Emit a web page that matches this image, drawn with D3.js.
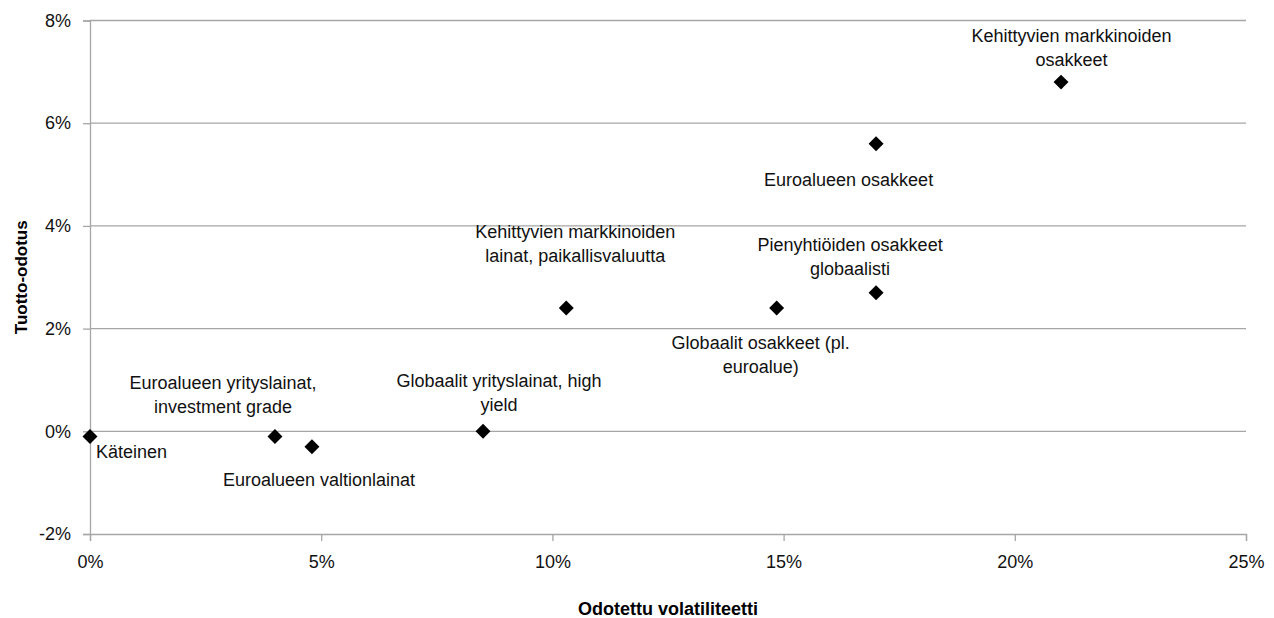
<!DOCTYPE html>
<html>
<head>
<meta charset="utf-8">
<script src="https://cdn.jsdelivr.net/npm/d3@7"></script>
<style>
  html, body { margin: 0; padding: 0; background: #fff; }
  svg { display: block; font-family: "Liberation Sans", Arial, sans-serif; }
</style>
</head>
<body>
<svg id="chart" width="1274" height="618"></svg>
<script>
// Asset classes: expected volatility (x, %) and expected return (y, %)
const assetNames = [
  "Käteinen",
  "Euroalueen yrityslainat, investment grade",
  "Euroalueen valtionlainat",
  "Globaalit yrityslainat, high yield",
  "Kehittyvien markkinoiden lainat, paikallisvaluutta",
  "Globaalit osakkeet (pl. euroalue)",
  "Pienyhtiöiden osakkeet globaalisti",
  "Euroalueen osakkeet",
  "Kehittyvien markkinoiden osakkeet"
];
const volatility = [0.0, 4.0, 4.8, 8.5, 10.3, 14.85, 17.0, 17.0, 21.0];
const expectedReturn = [-0.1, -0.1, -0.3, 0.0, 2.4, 2.4, 2.7, 5.6, 6.8];

// Label text as wrapped lines
const labelLines = [
  ["Käteinen"],
  ["Euroalueen yrityslainat,", "investment grade"],
  ["Euroalueen valtionlainat"],
  ["Globaalit yrityslainat, high", "yield"],
  ["Kehittyvien markkinoiden", "lainat, paikallisvaluutta"],
  ["Globaalit osakkeet (pl.", "euroalue)"],
  ["Pienyhtiöiden osakkeet", "globaalisti"],
  ["Euroalueen osakkeet"],
  ["Kehittyvien markkinoiden", "osakkeet"]
];

const xTicks = [0, 5, 10, 15, 20, 25];
const yTicks = [-2, 0, 2, 4, 6, 8];
const xTitle = "Odotettu volatiliteetti";
const yTitle = "Tuotto-odotus";

// Label placement relative to its marker: [dx, dy of block centre, anchor]
const labelPlacement = [
  [6, 16, "start"],
  [-52, -41, "middle"],
  [7, 33, "middle"],
  [16, -38.5, "middle"],
  [9, -64, "middle"],
  [-16, 47, "middle"],
  [-26, -36, "middle"],
  [-27.5, 36, "middle"],
  [10.5, -34, "middle"]
];

const W = 1274, H = 618;
const margin = { left: 90, right: 28, top: 20.5, bottom: 84 };
const svg = d3.select("#chart");

const x = d3.scaleLinear().domain([0, 25]).range([margin.left, W - margin.right]);
const y = d3.scaleLinear().domain([-2, 8]).range([H - margin.bottom, margin.top]);

const gridColor = "#a6a6a6";
const fontSize = 18;

// Horizontal gridlines
svg.append("g").selectAll("line")
  .data(yTicks.filter(t => t !== -2))
  .join("line")
  .attr("x1", x(0)).attr("x2", x(25))
  .attr("y1", d => y(d)).attr("y2", d => y(d))
  .attr("stroke", gridColor).attr("stroke-width", 1.3);

// Y axis
const yAxis = svg.append("g")
  .attr("transform", `translate(${x(0)},0)`)
  .call(d3.axisLeft(y).tickValues(yTicks).tickFormat(d => d + "%").tickSize(7).tickPadding(12));
yAxis.select(".domain").attr("stroke", gridColor).attr("stroke-width", 1.3);
yAxis.selectAll(".tick line").attr("stroke", gridColor).attr("stroke-width", 1.3);
yAxis.selectAll(".tick text")
  .attr("font-size", fontSize).attr("fill", "#111")
  .attr("font-family", "Liberation Sans, Arial, sans-serif");

// X axis
const xAxis = svg.append("g")
  .attr("transform", `translate(0,${y(-2)})`)
  .call(d3.axisBottom(x).tickValues(xTicks).tickFormat(d => d + "%").tickSize(7).tickPadding(14));
xAxis.select(".domain").attr("stroke", gridColor).attr("stroke-width", 1.3);
xAxis.selectAll(".tick line").attr("stroke", gridColor).attr("stroke-width", 1.3);
xAxis.selectAll(".tick text")
  .attr("font-size", fontSize).attr("fill", "#111")
  .attr("font-family", "Liberation Sans, Arial, sans-serif");

// Axis titles
svg.append("text")
  .attr("x", (x(0) + x(25)) / 2).attr("y", 609)
  .attr("text-anchor", "middle")
  .attr("dominant-baseline", "central")
  .attr("font-size", 18).attr("font-weight", "bold").attr("fill", "#000")
  .text(xTitle);

svg.append("text")
  .attr("transform", `translate(27,${(y(-2) + y(8)) / 2}) rotate(-90)`)
  .attr("text-anchor", "middle")
  .attr("font-size", 17).attr("font-weight", "bold").attr("fill", "#000")
  .text(yTitle);

// Data points: rotated squares (diamond markers)
const points = assetNames.map((name, i) => ({
  name, vx: volatility[i], ry: expectedReturn[i], lines: labelLines[i], place: labelPlacement[i]
}));

const diamond = d3.symbol().type(d3.symbolSquare).size(112);
svg.append("g").selectAll("path")
  .data(points)
  .join("path")
  .attr("d", diamond)
  .attr("transform", d => `translate(${x(d.vx)},${y(d.ry)}) rotate(45)`)
  .attr("fill", "#000");

// Data labels
const lineH = 24;
const labels = svg.append("g").selectAll("text")
  .data(points)
  .join("text")
  .attr("text-anchor", d => d.place[2])
  .attr("font-size", fontSize)
  .attr("fill", "#111")
  .attr("dominant-baseline", "central");

labels.each(function (d) {
  const cx = x(d.vx) + d.place[0];
  const cy = y(d.ry) + d.place[1];
  const n = d.lines.length;
  d3.select(this).selectAll("tspan")
    .data(d.lines)
    .join("tspan")
    .attr("x", cx)
    .attr("y", (l, k) => cy + (k - (n - 1) / 2) * lineH)
    .text(l => l);
});
</script>
</body>
</html>
